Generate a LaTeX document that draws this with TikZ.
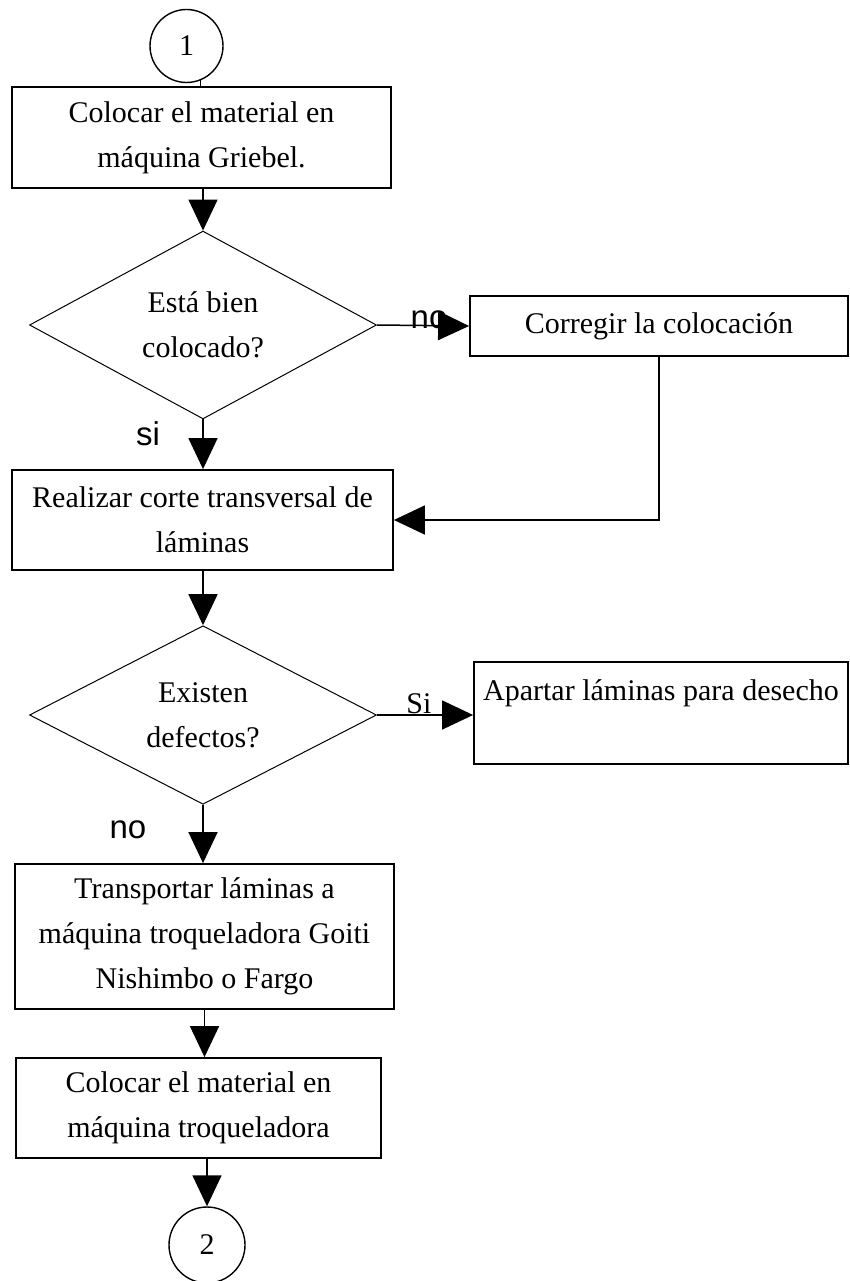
\documentclass[tikz,border=0pt]{standalone}
\usepackage{fontspec}
\setmainfont{Liberation Serif}
\newfontfamily\labelfont{Liberation Sans}
\usetikzlibrary{shapes.geometric,arrows.meta}
\begin{document}
\begin{tikzpicture}[x=1pt,y=-1pt,
  every node/.style={font=\fontsize{30}{45}\selectfont},
  procbox/.style={draw,line width=1.8pt,rectangle,inner sep=0pt,align=center},
  decision/.style={draw,line width=1pt,diamond,inner sep=0pt,align=center,
    minimum width=347pt,minimum height=176pt},
  connector/.style={draw,line width=1.4pt,circle,inner sep=0pt},
  flow/.style={line width=1.5pt,-{Triangle[width=29pt,length=31pt]}},
  plain/.style={line width=1.5pt},
  answer/.style={font=\labelfont\fontsize{33}{40}\selectfont,inner sep=0pt},
  answerserif/.style={font=\fontsize{30}{36}\selectfont,inner sep=0pt,anchor=south}]
\useasboundingbox (0,0) rectangle (849,1281);

% terminal connectors
\node[connector,minimum size=73pt] (c1) at (186.5,46) {1};
\node[connector,minimum size=76pt] (c2) at (207,1245) {2};

% process steps
\node[procbox,minimum width=379pt,minimum height=101pt] (b1) at (201.5,137.5)
  {Colocar el material en\\máquina Griebel.};
\node[decision] (d1) at (203,325) {Está bien\\colocado?};
\node[procbox,minimum width=378pt,minimum height=60pt] (corr) at (659,326)
  {Corregir la colocación};
\node[procbox,minimum width=381pt,minimum height=100pt] (b3) at (202.5,520)
  {Realizar corte transversal de\\láminas};
\node[decision] (d2) at (203,715) {Existen\\defectos?};
\node[procbox,minimum width=374pt,minimum height=102pt,align=left] (waste) at (661,713)
  {Apartar láminas para desecho\\\mbox{}};
\node[procbox,minimum width=379pt,minimum height=145pt] (b5) at (204.5,936.5)
  {Transportar láminas a\\máquina troqueladora Goiti\\Nishimbo o Fargo};
\node[procbox,minimum width=365pt,minimum height=100pt] (b6) at (198.5,1108)
  {Colocar el material en\\máquina troqueladora};

% connectors
\draw[plain] (c1.-68) -- (c1.-68 |- b1.north);
\draw[flow] (b1.south -| d1.north) -- (d1.north);
\draw[flow] (d1.east) -- (corr.west);
\draw[flow] (corr.south) |- (b3.east);
\draw[flow] (d1.south) -- (d1.south |- b3.north);
\draw[flow] (b3.south -| d2.north) -- (d2.north);
\draw[flow] (d2.east) -- (d2.east -| waste.west);
\draw[flow] (d2.south) -- (d2.south |- b5.north);
\draw[flow] (b5.south) -- (b5.south |- b6.north);
\draw[flow] (c2.north |- b6.south) -- (c2.north);

% branch labels
\node[answer] (no1) at (429,320) {no};
\node[answer] (si1) at (148,434) {si};
\node[answerserif] (si2) at (419,714) {Si};
\node[answer] (no2) at (128,830) {no};
\end{tikzpicture}
\end{document}
